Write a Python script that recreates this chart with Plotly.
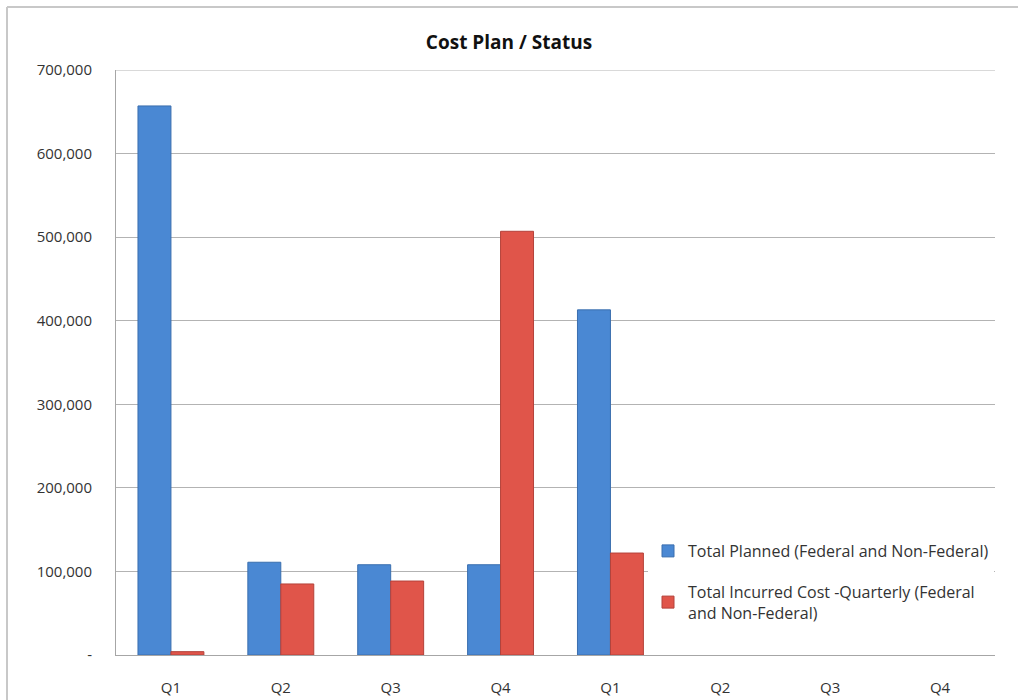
import plotly.graph_objects as go

categories = ["Q1", "Q2", "Q3", "Q4", "Q1", "Q2", "Q3", "Q4"]
planned = [657000, 111000, 108000, 108000, 413000, None, None, None]
incurred = [4000, 85000, 88500, 507000, 122000, None, None, None]
y_ticks = [0, 100000, 200000, 300000, 400000, 500000, 600000, 700000]
y_ticktext = ["-", "100,000", "200,000", "300,000", "400,000", "500,000", "600,000", "700,000"]

x_pos = list(range(len(categories)))

W, H = 1018, 700
L, R, T, B = 116, 23, 70, 45
pw, ph = W - L - R, H - T - B

def px(x):
    return (x - L) / pw

def py(y):
    return (H - B - y) / ph

fig = go.Figure()
fig.add_trace(go.Bar(
    x=x_pos, y=planned, name="Total Planned (Federal and Non-Federal)",
    marker=dict(color="#4a88d3", line=dict(color="#3a6eae", width=1)),
    legendgroup="a",
))
fig.add_trace(go.Bar(
    x=x_pos, y=incurred, name="Total Incurred Cost -Quarterly (Federal<br>and Non-Federal)",
    marker=dict(color="#e0554a", line=dict(color="#b4423a", width=1)),
    legendgroup="b",
))

font_family = "Open Sans"
grid_color = "#b3b3b3"

fig.update_layout(
    width=W, height=H,
    margin=dict(l=L, r=R, t=T, b=B, autoexpand=False),
    paper_bgcolor="white", plot_bgcolor="white",
    barmode="group", bargap=0.4, bargroupgap=0,
    font=dict(family=font_family, size=15, color="#333333"),
    title=dict(text="<b>Cost Plan / Status</b>", x=0.5, xanchor="center",
               y=1 - 42 / H, yanchor="middle",
               font=dict(family=font_family, size=19, color="#111111")),
    showlegend=True,
    legend=dict(x=px(648), xanchor="left", y=py(534), yanchor="top",
                bgcolor="white", borderwidth=0, traceorder="grouped",
                tracegroupgap=17, itemwidth=30,
                font=dict(family=font_family, size=16, color="#333333")),
    xaxis=dict(
        tickmode="array", tickvals=x_pos, ticktext=categories,
        range=[-0.5, len(categories) - 0.5],
        showgrid=False, showline=True, linecolor="#a6a6a6", linewidth=1,
        ticks="", ticklabelstandoff=19, zeroline=False,
        tickfont=dict(size=15, color="#333333"),
    ),
    yaxis=dict(
        range=[0, 700000], tickmode="array", tickvals=y_ticks, ticktext=y_ticktext,
        showgrid=True, gridcolor=grid_color, gridwidth=1,
        showline=True, linecolor="#a6a6a6", linewidth=1,
        ticks="", ticklabelstandoff=20, zeroline=False,
        tickfont=dict(size=15, color="#333333"),
    ),
    shapes=[
        dict(type="line", xref="paper", yref="y",
             x0=0, x1=1, y0=y_ticks[-1], y1=y_ticks[-1],
             line=dict(color=grid_color, width=1), layer="below"),
        dict(type="line", xref="paper", yref="paper",
             x0=px(7), x1=px(7), y0=py(7), y1=py(700),
             line=dict(color="#c8c8c8", width=2)),
        dict(type="line", xref="paper", yref="paper",
             x0=px(7), x1=px(1018), y0=py(7), y1=py(7),
             line=dict(color="#c8c8c8", width=2)),
    ],
)

fig.write_html("out.html")
